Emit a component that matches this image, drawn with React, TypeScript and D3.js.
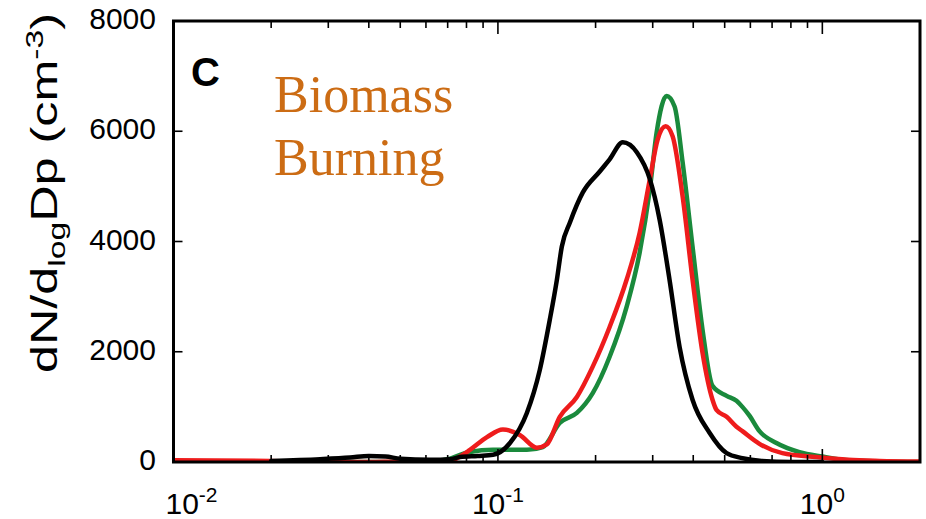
import React from "react";
import * as d3 from "d3";

// ---- data ----
const blackD = [0.02, 0.0283, 0.035, 0.04, 0.045, 0.05, 0.0618, 0.0712, 0.0764, 0.0866, 0.0966, 0.1089, 0.1228, 0.1346, 0.1445, 0.152, 0.1574, 0.1667, 0.1827, 0.206, 0.221, 0.2425, 0.268, 0.294, 0.315, 0.338, 0.363, 0.398, 0.449, 0.507, 0.567, 0.65, 0.8, 1.0];
const blackV = [20, 50, 80, 110, 100, 60, 40, 50, 90, 110, 130, 345, 890, 1670, 2580, 3310, 3910, 4345, 4890, 5270, 5490, 5800, 5620, 5130, 4400, 3310, 2090, 1130, 530, 160, 70, 20, 0, 0];

const redD = [0.01, 0.0199, 0.0283, 0.04, 0.05, 0.0618, 0.0712, 0.0764, 0.082, 0.0925, 0.1036, 0.1168, 0.1318, 0.1415, 0.1551, 0.1751, 0.196, 0.221, 0.2494, 0.2735, 0.294, 0.3107, 0.3288, 0.3455, 0.3709, 0.398, 0.4273, 0.4586, 0.4718, 0.507, 0.5437, 0.567, 0.64, 0.753, 0.958, 1.2, 1.5, 2.0];
const redV = [30, 20, 0, 0, 10, 0, 20, 100, 220, 450, 590, 490, 260, 320, 820, 1180, 1730, 2450, 3310, 4160, 5130, 5850, 6090, 5910, 4820, 3310, 1980, 1130, 945, 820, 640, 560, 330, 160, 90, 40, 20, 10];

const greenD = [0.01, 0.02, 0.04, 0.06, 0.0712, 0.0764, 0.082, 0.0966, 0.1228, 0.1375, 0.1551, 0.1751, 0.196, 0.221, 0.2494, 0.2735, 0.294, 0.3085, 0.3311, 0.3504, 0.3709, 0.398, 0.4273, 0.4586, 0.507, 0.5437, 0.567, 0.5962, 0.64, 0.722, 0.85, 1.0, 1.21, 1.5, 2.0];
const greenV = [10, 0, 0, 0, 60, 130, 180, 220, 220, 270, 710, 890, 1250, 1910, 2820, 3800, 4950, 5980, 6640, 6450, 5440, 3910, 2400, 1380, 1200, 1110, 1000, 840, 560, 345, 180, 100, 30, 10, 0];

const xMajorTicks = [0.01, 0.1, 1];
const xMajorExponents = ["-2", "-1", "0"];
const yTicks = [0, 2000, 4000, 6000, 8000];
const yTickLabels = ["0", "2000", "4000", "6000", "8000"];
const xDomain = [0.01, 2];
const yDomain = [0, 8000];

const panelLabel = "C";
const titleLines = ["Biomass", "Burning"];

const series = [
  { name: "green", d: greenD, v: greenV, color: "#1a8a3c" },
  { name: "red", d: redD, v: redV, color: "#ee1c1c" },
  { name: "black", d: blackD, v: blackV, color: "#000000" },
];

export default function App() {
  const W = 926, H = 519;
  const L = 173.5, R = 920, T = 21, B = 462;
  const x = d3.scaleLog().domain(xDomain).range([L, R]);
  const y = d3.scaleLinear().domain(yDomain).range([B, T]);

  const minor: number[] = [];
  for (let e = -2; e <= 0; e++) {
    for (let k = 2; k <= 9; k++) {
      const v = k * Math.pow(10, e);
      if (v < xDomain[1]) minor.push(v);
    }
  }

  const line = d3
    .line<[number, number]>()
    .x((p) => x(p[0]))
    .y((p) => y(p[1]))
    .curve(d3.curveMonotoneX);

  const font = "'Liberation Sans', Arial, Helvetica, sans-serif";

  return (
    <svg
      width={W}
      height={H}
      viewBox={`0 0 ${W} ${H}`}
      style={{ position: "absolute", left: 0, top: 0, background: "#fff" }}
    >
      <rect x={0} y={0} width={W} height={H} fill="#fff" />
      <defs>
        <clipPath id="plotclip">
          <rect x={L} y={T} width={R - L} height={B - T} />
        </clipPath>
      </defs>

      {/* curves */}
      <g clipPath="url(#plotclip)">
        {series.map((s) => (
          <path
            key={s.name}
            d={line(s.d.map((dd, i) => [dd, s.v[i]] as [number, number])) || ""}
            fill="none"
            stroke={s.color}
            strokeWidth={4.5}
            strokeLinejoin="round"
            strokeLinecap="round"
          />
        ))}
      </g>

      {/* ticks */}
      <g stroke="#000" strokeWidth={1.6}>
        {minor.map((m) => (
          <g key={"m" + m}>
            <line x1={x(m)} x2={x(m)} y1={B} y2={B - 7} />
            <line x1={x(m)} x2={x(m)} y1={T} y2={T + 7} />
          </g>
        ))}
        {xMajorTicks.map((m) => (
          <g key={"M" + m}>
            <line x1={x(m)} x2={x(m)} y1={B} y2={B - 13} />
            <line x1={x(m)} x2={x(m)} y1={T} y2={T + 13} />
          </g>
        ))}
        {yTicks.map((t) => (
          <g key={"y" + t}>
            <line x1={L} x2={L + 9} y1={y(t)} y2={y(t)} />
            <line x1={R} x2={R - 9} y1={y(t)} y2={y(t)} />
          </g>
        ))}
      </g>

      {/* frame */}
      <rect x={L} y={T} width={R - L} height={B - T} fill="none" stroke="#000" strokeWidth={3} />

      {/* y tick labels */}
      <g fontFamily={font} fontSize={30} fill="#000">
        {yTicks.map((t, i) => (
          <text key={"yl" + t} x={156} y={y(t) + 8} textAnchor="end">
            {yTickLabels[i]}
          </text>
        ))}
      </g>

      {/* x tick labels */}
      <g fontFamily={font} fill="#000">
        {xMajorTicks.map((t, i) => (
          <text
            key={"xl" + t}
            x={x(t) + (i === 0 ? 18 : 0)}
            y={514}
            textAnchor="middle"
            fontSize={30}
          >
            10
            <tspan fontSize={21} dy={-12}>
              {xMajorExponents[i]}
            </tspan>
          </text>
        ))}
      </g>

      {/* y axis title */}
      <text
        transform="translate(57,193) rotate(-90)"
        textAnchor="middle"
        fontFamily={font}
        fontSize={36}
        fill="#000"
        textLength={360}
        lengthAdjust="spacingAndGlyphs"
      >
        dN/d
        <tspan fontSize={24} dy={8}>log</tspan>
        <tspan dy={-8}>Dp (cm</tspan>
        <tspan fontSize={24} dy={-14}>-3</tspan>
        <tspan dy={14}>)</tspan>
      </text>

      {/* panel label */}
      <text x={191} y={86} fontFamily={font} fontWeight="bold" fontSize={40} fill="#000">
        {panelLabel}
      </text>

      {/* title */}
      <g fontFamily="'Liberation Serif', 'Times New Roman', serif" fontSize={52} fill="#cc6c14">
        {titleLines.map((t, i) => (
          <text key={t} x={274} y={112 + i * 63}>
            {t}
          </text>
        ))}
      </g>
    </svg>
  );
}
